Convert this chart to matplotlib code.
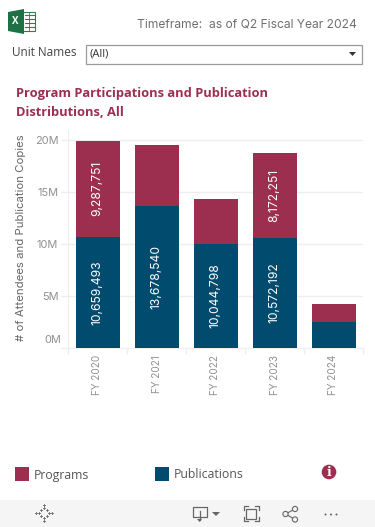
#!/usr/bin/env python3
"""Program participations and publication distributions, Tableau-style dashboard."""
import matplotlib
matplotlib.use("Agg")
import matplotlib.pyplot as plt
from matplotlib.patches import Circle, Polygon, Rectangle

years = ["FY 2020", "FY 2021", "FY 2022", "FY 2023", "FY 2024"]
publications = [10659493, 13678540, 10044798, 10572192, 2500000]
programs = [9287751, 5840000, 4280000, 8172251, 1730000]
y_ticks = [0, 5e6, 10e6, 15e6, 20e6]
y_tick_labels = ["0M", "5M", "10M", "15M", "20M"]

CRIMSON = "#9C2F50"
NAVY = "#004B6E"
LABEL_MIN = 8e6
W, H = 375, 527
OPEN = ["Open Sans", "DejaVu Sans"]

plt.rcParams["font.family"] = ["Inter", "DejaVu Sans"]
fig = plt.figure(figsize=(W / 100, H / 100), dpi=100, facecolor="white")

# overlay in pixel coordinates for the dashboard furniture
ui = fig.add_axes([0, 0, 1, 1])
ui.set_xlim(0, W)
ui.set_ylim(H, 0)
ui.axis("off")

ax = fig.add_axes([68 / W, (H - 348) / H, 295 / W, 218 / H])
x = [i + 0.5 for i in range(len(years))]
ax.bar(x, publications, width=44 / 59, color=NAVY, zorder=3)
ax.bar(x, programs, width=44 / 59, bottom=publications, color=CRIMSON, zorder=3)
for xi, pub, prog in zip(x, publications, programs):
    for val, base in ((pub, 0), (prog, pub)):
        if val >= LABEL_MIN:
            ax.text(xi, base + val / 2, f"{val:,}", rotation=90, ha="center", va="center",
                    color="white", fontsize=8.7, zorder=4)

ax.set_xlim(0, 5)
ax.set_ylim(0, 218 / 10.4 * 1e6)
ax.set_yticks(y_ticks)
# the 0M label sits above its gridline in the original, so it is placed by hand
ax.set_yticklabels([""] + y_tick_labels[1:], color="#909090", fontsize=7.9)
ax.annotate(y_tick_labels[0], xy=(0, y_ticks[0]), xytext=(-7, 8), textcoords="offset pixels",
            ha="right", va="center", color="#909090", fontsize=7.9)
ax.set_xticks(x)
ax.set_xticklabels(years, rotation=90, color="#909090", fontsize=7.2)
ax.set_xticks(range(6), minor=True)
ax.tick_params(axis="x", which="major", length=0, pad=5)
ax.tick_params(axis="x", which="minor", length=4, color="#eeeeee", width=1)
ax.tick_params(axis="y", length=5, color="#eeeeee", width=1, pad=2)
ax.grid(axis="y", color="#eeeeee", linewidth=1, zorder=0)
ax.set_axisbelow(True)
for side in ("top", "right"):
    ax.spines[side].set_visible(False)
for side in ("left", "bottom"):
    ax.spines[side].set_color("#eeeeee")

ui.text(21, 238, "# of Attendees and Publication Copies", rotation=90, ha="center", va="center",
        color="#666666", fontsize=8.2)

# header
ui.text(357, 24, "Timeframe:  as of Q2 Fiscal Year 2024", ha="right", va="center",
        color="#707070", fontsize=8.7)
ui.text(12, 53, "Unit Names", ha="left", va="center", color="#444444", fontsize=8.5, family=OPEN)
ui.add_patch(Rectangle((85.5, 44.5), 276, 19, fc="white", ec="#9a9a9a", lw=0.9))
ui.text(89, 54, "(All)", ha="left", va="center", color="#333333", fontsize=8, family=OPEN)
ui.add_patch(Polygon([(349, 52), (356, 52), (352.5, 56)], fc="#333333", ec="none"))
for yy, line in ((93, "Program Participations and Publication"), (112, "Distributions, All")):
    ui.text(16, yy, line, ha="left", va="center", color=CRIMSON, fontsize=9.3, fontweight="bold",
            family=OPEN)

# excel icon
ui.add_patch(Rectangle((20, 12), 15, 19, fc="white", ec="#2f7d50", lw=0.8))
for yy in (15, 19, 23, 27):
    ui.plot([25, 34], [yy, yy], color="#2f7d50", lw=0.8)
ui.plot([29, 29], [13, 30], color="#2f7d50", lw=0.6)
ui.add_patch(Polygon([(8, 12), (24, 9), (24, 34), (8, 31)], fc="#1e7145", ec="none"))
ui.text(15.5, 22, "X", ha="center", va="center", color="white", fontsize=7, fontweight="bold",
        family=OPEN)

# legend
ui.add_patch(Rectangle((15, 467), 14, 14, fc=CRIMSON, ec="none"))
ui.text(34, 475, "Programs", ha="left", va="center", color="#555555", fontsize=8.8, family=OPEN)
ui.add_patch(Rectangle((155, 467), 14, 14, fc=NAVY, ec="none"))
ui.text(174, 475, "Publications", ha="left", va="center", color="#555555", fontsize=8.8, family=OPEN)
ui.add_patch(Circle((329, 472), 7.3, fc=CRIMSON, ec="none"))
ui.text(329, 472, "i", ha="center", va="center", color="white", fontsize=9, fontweight="bold",
        family=["DejaVu Serif"])

# toolbar
ui.add_patch(Rectangle((0, 500), W, 27, fc="#f5f5f5", ec="none"))
TOOL = "#666666"
for dx, dy in ((0, -5), (0, 5), (-5, 0), (5, 0), (-3, -3), (3, -3), (-3, 3), (3, 3),
               (0, -8), (0, 8), (-8, 0), (8, 0)):
    ui.plot([44 + dx - 1.3, 44 + dx + 1.3], [513 + dy, 513 + dy], color=TOOL, lw=0.6)
    ui.plot([44 + dx, 44 + dx], [513 + dy - 1.3, 513 + dy + 1.3], color=TOOL, lw=0.6)
ui.plot([199, 192.5, 192.5, 206.5, 206.5, 200], [516.5, 516.5, 506.5, 506.5, 516.5, 516.5],
        color=TOOL, lw=0.9)
ui.plot([199.5, 199.5], [511, 520], color=TOOL, lw=0.9)
ui.add_patch(Polygon([(197, 519), (202, 519), (199.5, 522)], fc=TOOL, ec="none"))
ui.add_patch(Polygon([(212, 512), (220, 512), (216, 516)], fc=TOOL, ec="none"))
ui.add_patch(Rectangle((246, 508.5), 10, 10, fc="none", ec=TOOL, lw=0.9))
for cx, cy, sx, sy in ((243.5, 506, 1, 1), (258.5, 506, -1, 1), (243.5, 521, 1, -1), (258.5, 521, -1, -1)):
    ui.plot([cx + 4 * sx, cx, cx], [cy, cy, cy + 4 * sy], color=TOOL, lw=0.9)
ui.plot([295, 285.5, 295], [509, 514, 519.5], color=TOOL, lw=0.8)
for cx, cy in ((295, 509), (285.5, 514), (295, 519.5)):
    ui.add_patch(Circle((cx, cy), 2.6, fc="#f5f5f5", ec=TOOL, lw=0.8, zorder=3))
for cx in (325.5, 331, 336.5):
    ui.add_patch(Circle((cx, 514.5), 1, fc=TOOL, ec="none"))

fig.savefig("out.png", dpi=100, facecolor="white")
